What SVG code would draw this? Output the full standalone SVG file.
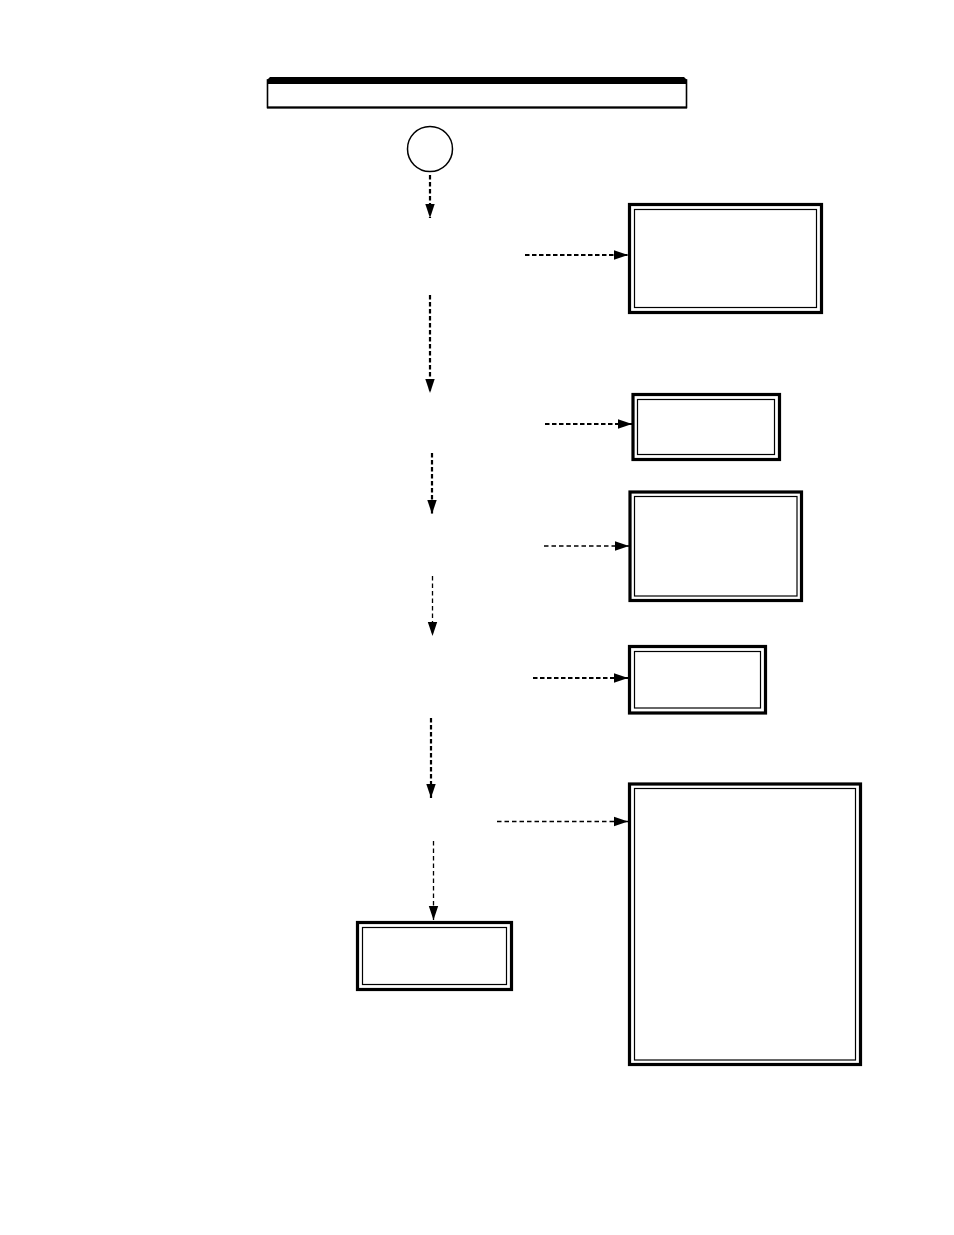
<svg xmlns="http://www.w3.org/2000/svg" width="954" height="1235" viewBox="0 0 954 1235">
<style>
.outer{fill:#fff;stroke:#000;stroke-width:3.2}
.inner{fill:none;stroke:#000;stroke-width:1.2}
.thick{fill:none;stroke:#000;stroke-width:2.2;stroke-dasharray:4.5 2.5}
.thin{fill:none;stroke:#000;stroke-width:1.3;stroke-dasharray:4.5 3}
</style>
<defs>
<marker id="ah" markerUnits="userSpaceOnUse" markerWidth="16" markerHeight="12" refX="14" refY="6" orient="auto">
<path d="M0,1.3 L14,6 L0,10.7 Z" fill="#000"/>
</marker>
</defs>
<rect width="954" height="1235" fill="#fff"/>
<g id="header">
<rect x="267.5" y="80" width="419" height="27.5" fill="#fff" stroke="#000" stroke-width="1.6"/>
<line x1="267" y1="107.5" x2="687" y2="107.5" stroke="#000" stroke-width="2"/>
<path d="M267,84 L267,80 L270,77 L684,77 L687,80 L687,84 Z" fill="#000"/>
</g>
<g id="start">
<circle cx="430" cy="149" r="22.5" fill="#fff" stroke="#000" stroke-width="1.5"/>
</g>
<g id="box1">
<rect class="outer" x="629.5" y="204.5" width="192" height="108"/>
<rect class="inner" x="634.5" y="209.5" width="182" height="98"/>
</g>
<g id="box2">
<rect class="outer" x="633" y="394.5" width="146.5" height="65"/>
<rect class="inner" x="637.5" y="399.5" width="137" height="55"/>
</g>
<g id="box3">
<rect class="outer" x="630" y="492" width="171.5" height="108.5"/>
<rect class="inner" x="634.5" y="496.5" width="162.5" height="99.5"/>
</g>
<g id="box4">
<rect class="outer" x="629.5" y="646.5" width="136" height="66.5"/>
<rect class="inner" x="634.5" y="651.5" width="126" height="56.5"/>
</g>
<g id="box5">
<rect class="outer" x="629.5" y="784" width="231" height="280.5"/>
<rect class="inner" x="634.5" y="788.5" width="221" height="271.5"/>
</g>
<g id="box6">
<rect class="outer" x="357.5" y="922.5" width="154" height="67"/>
<rect class="inner" x="362.5" y="927.5" width="144" height="57"/>
</g>
<g id="connectors">
<line class="thick" x1="430" y1="175" x2="430" y2="218" marker-end="url(#ah)"/>
<line class="thick" x1="525" y1="255" x2="628" y2="255" marker-end="url(#ah)"/>
<line class="thick" x1="430" y1="295" x2="430" y2="393" marker-end="url(#ah)"/>
<line class="thick" x1="545" y1="424" x2="632" y2="424" marker-end="url(#ah)"/>
<line class="thick" x1="432" y1="453" x2="432" y2="514" marker-end="url(#ah)"/>
<line class="thin" x1="544" y1="546" x2="629" y2="546" marker-end="url(#ah)"/>
<line class="thin" x1="432.5" y1="576" x2="432.5" y2="636" marker-end="url(#ah)"/>
<line class="thick" x1="533" y1="678" x2="628" y2="678" marker-end="url(#ah)"/>
<line class="thick" x1="431" y1="718" x2="431" y2="798" marker-end="url(#ah)"/>
<line class="thin" x1="497" y1="821.5" x2="628" y2="821.5" marker-end="url(#ah)"/>
<line class="thin" x1="433.5" y1="841" x2="433.5" y2="920" marker-end="url(#ah)"/>
</g>
</svg>
